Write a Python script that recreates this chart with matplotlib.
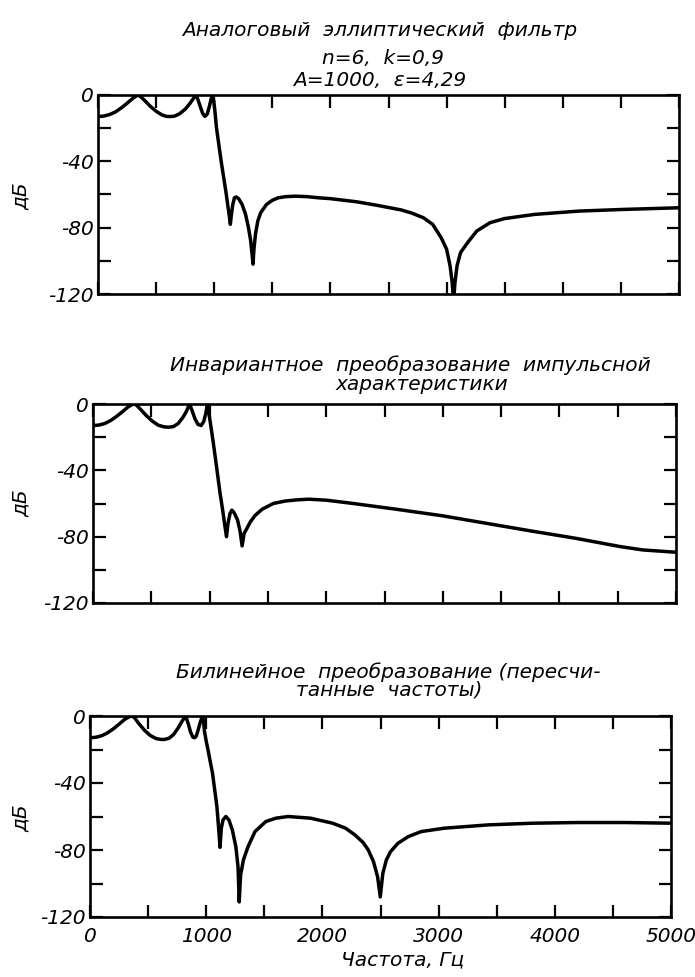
import matplotlib
matplotlib.use("Agg")
import matplotlib.pyplot as plt
from matplotlib.ticker import MultipleLocator

plt.rcParams['font.family'] = ['DejaVu Sans']
plt.rcParams['font.style'] = 'oblique'
plt.rcParams['axes.unicode_minus'] = False

# ---------------- data ----------------
# Panel 1: analog elliptic filter
freq_analog = [0, 50, 100, 150, 200, 250, 300, 325, 344, 365,
               400, 450, 500, 550, 590, 625, 660, 700, 750, 790,
               820, 843, 860, 880, 900, 920, 940, 958, 972, 985,
               995, 1005, 1020, 1040, 1060, 1080, 1100, 1118, 1130, 1139,
               1148, 1160, 1174, 1190, 1210, 1240, 1270, 1295, 1314, 1326,
               1334, 1342, 1355, 1375, 1400, 1450, 1500, 1550, 1614, 1700,
               1800, 1900, 2000, 2226, 2400, 2609, 2700, 2800, 2880, 2953,
               3000, 3030, 3048, 3060, 3072, 3090, 3120, 3183, 3260, 3374,
               3500, 3757, 4139, 4522, 5000]
db_analog = [-13, -12.7, -11.8, -10.2, -7.8, -5, -2, -0.8, 0, -0.9,
             -3.2, -6.8, -9.8, -12, -12.9, -13, -12.7, -11.4, -8.6, -5.2,
             -2.2, 0, -2.8, -7, -11, -12.9, -11.5, -7, -2.8, 0,
             -3, -9, -20, -30, -40, -49, -58, -67, -73, -78,
             -72, -66, -62, -61.5, -62.5, -66, -72, -80, -88, -96,
             -102, -93, -84, -76, -71, -66, -63.5, -62, -61.3, -61,
             -61.3, -62, -62.5, -64.4, -66.5, -69.3, -71.2, -74, -78, -86,
             -93, -103, -113, -125, -113, -103, -95, -88.8, -82, -77,
             -74.5, -72, -70, -69, -68]

# Panel 2: impulse-invariant transformation
freq_invariant = [0, 50, 100, 150, 200, 250, 300, 335, 355, 375,
                  410, 460, 510, 560, 610, 649, 690, 730, 770, 800,
                  828, 850, 875, 900, 927, 950, 968, 981, 995, 1010,
                  1031, 1060, 1088, 1110, 1130, 1145, 1158, 1175, 1191, 1210,
                  1240, 1262, 1279, 1296, 1320, 1350, 1393, 1450, 1546, 1650,
                  1750, 1851, 2000, 2233, 2615, 2996, 3378, 3760, 4141, 4523,
                  4714, 5000]
db_invariant = [-13, -12.7, -11.8, -10, -7.6, -4.8, -1.8, -0.4, 0, -0.8,
                -3.4, -7.2, -10.4, -12.8, -13.8, -14, -13.6, -11.8, -8.2, -4.6,
                0, -4, -9, -12.3, -13, -10.5, -5.5, 0, -6, -13,
                -23, -38, -53, -63, -73, -80, -72, -66, -64, -65.5,
                -70, -77, -85.6, -78, -75, -71, -67, -63.5, -60, -58.5,
                -57.8, -57.4, -58, -60, -63.6, -67.4, -72, -76.6, -81, -86,
                -88, -89.4]

# Panel 3: bilinear transformation (prewarped frequencies)
freq_bilinear = [0, 50, 100, 150, 200, 250, 300, 340, 364, 385,
                 420, 470, 520, 570, 610, 640, 680, 720, 760, 795,
                 824, 845, 865, 885, 900, 915, 930, 950, 969, 977,
                 985, 1000, 1015, 1034, 1054, 1073, 1092, 1106, 1119, 1130,
                 1145, 1169, 1195, 1225, 1255, 1274, 1284, 1296, 1320, 1360,
                 1420, 1513, 1600, 1705, 1897, 2088, 2200, 2280, 2350, 2395,
                 2440, 2475, 2498, 2520, 2550, 2586, 2650, 2739, 2850, 3046,
                 3429, 3812, 4195, 4600, 5000]
db_bilinear = [-13, -12.7, -11.8, -10.1, -7.7, -4.9, -1.9, -0.4, 0, -1.2,
               -4.5, -8.6, -11.7, -13.5, -14, -14, -13.3, -11, -7, -2.8,
               0, -4.5, -9.5, -12.6, -13, -12, -8.5, -3.5, 0, -3,
               -9, -15, -20, -27, -34, -44, -54, -66, -78.4, -67,
               -62, -60, -62, -68, -78, -90, -111, -95, -86, -78,
               -69, -63, -61, -60, -61, -64, -67, -71, -75.5, -80,
               -87, -96, -108, -94, -86, -81, -76, -72, -69, -67,
               -65, -64, -63.6, -63.6, -64]

x_tick_labels = ['0', '1000', '2000', '3000', '4000', '5000']
y_tick_labels = ['0', '-40', '-80', '-120']

titles = [
    ["Аналоговый  эллиптический  фильтр", "n=6,  k=0,9", "A=1000,  ε=4,29"],
    ["Инвариантное  преобразование  импульсной", "характеристики"],
    ["Билинейное  преобразование (пересчи-", "танные  частоты)"],
]
ylabel_text = "дБ"
xlabel_text = "Частота, Гц"

# ---------------- figure ----------------
W, H = 695, 977
fig = plt.figure(figsize=(W / 100, H / 100), dpi=100)

def frac_rect(x0, y0, x1, y1):
    return [x0 / W, 1 - y1 / H, (x1 - x0) / W, (y1 - y0) / H]

rects = [frac_rect(98, 95, 679, 294),
         frac_rect(93, 404, 676, 603),
         frac_rect(90, 716, 671, 917)]

series = [(freq_analog, db_analog), (freq_invariant, db_invariant),
          (freq_bilinear, db_bilinear)]

FS = 14.5
for i, (rect, (fx, fy)) in enumerate(zip(rects, series)):
    ax = fig.add_axes(rect)
    ax.plot(fx, fy, color='black', lw=2.5, solid_joinstyle='round',
            solid_capstyle='round')
    ax.set_xlim(0, 5000)
    ax.set_ylim(-120, 0)
    for s in ax.spines.values():
        s.set_linewidth(1.9)
    ax.xaxis.set_major_locator(MultipleLocator(1000))
    ax.xaxis.set_minor_locator(MultipleLocator(500))
    ax.yaxis.set_major_locator(MultipleLocator(40))
    ax.yaxis.set_minor_locator(MultipleLocator(20))
    ax.tick_params(which='both', direction='in', top=True, right=True,
                   length=9, width=1.6)
    ax.tick_params(axis='y', pad=3, labelsize=FS)
    ax.tick_params(axis='x', pad=7, labelsize=FS)
    ax.set_yticks([0, -40, -80, -120])
    ax.set_yticklabels(y_tick_labels, fontstyle='oblique')
    if i == 2:
        ax.set_xticks([0, 1000, 2000, 3000, 4000, 5000])
        ax.set_xticklabels(x_tick_labels, fontstyle='oblique')
    else:
        ax.set_xticklabels([])

def ftext(x, y, s, **kw):
    fig.text(x / W, 1 - y / H, s, ha='center', va='center',
             fontsize=FS, fontstyle='oblique', **kw)

# titles
ftext(380, 31, titles[0][0])
ftext(383, 58, titles[0][1])
ftext(380, 81, titles[0][2])
ftext(410, 365, titles[1][0])
ftext(422, 385, titles[1][1])
ftext(388, 672, titles[2][0])
ftext(389, 690, titles[2][1])

# y labels
for yc in (196, 503, 818):
    fig.text(21 / W, 1 - yc / H, ylabel_text, rotation=90, ha='center',
             va='center', fontsize=FS, fontstyle='oblique')

# x label
ftext(403, 960, xlabel_text)

fig.savefig("out.png", dpi=100)
